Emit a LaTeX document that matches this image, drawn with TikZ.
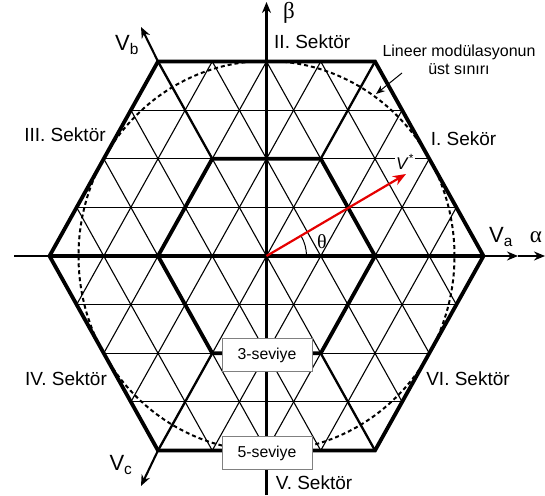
\documentclass[tikz,border=0pt]{standalone}
\usepackage{fontspec}
\setmainfont{Liberation Sans}
\newfontfamily\greekfont{Liberation Serif}
\usetikzlibrary{arrows.meta}
\begin{document}
\begin{tikzpicture}[x=1pt,y=1pt,
  thinline/.style={line width=1.1pt},
  medline/.style={line width=2.3pt},
  thickline/.style={line width=3.8pt, line join=miter},
  axisline/.style={line width=2.1pt},
  tipend/.style={-{Stealth[length=11pt,width=9pt]}},
  lbl/.style={font=\fontsize{19}{19}\selectfont, inner sep=0pt},
  vlbl/.style={font=\fontsize{22}{22}\selectfont, inner sep=0pt},
  smalllbl/.style={font=\fontsize{16}{17.5}\selectfont, inner sep=0pt, align=center},
  greek/.style={font=\greekfont\fontsize{23}{23}\selectfont, inner sep=0pt},
  levelbox/.style={draw=gray, line width=0.8pt, fill=white, minimum width=90pt, minimum height=33pt, inner sep=0pt, font=\fontsize{15.8}{17}\selectfont}
]
\useasboundingbox (0,0) rectangle (545,495);
\coordinate (O) at (266.5,239);
\begin{scope}[shift={(266.5,239)}, x={(54.25pt,0pt)}, y={(27.125pt,48.625pt)}]
  % outer hexagon vertices
  \coordinate (H1) at (4,0);  \coordinate (H2) at (0,4);  \coordinate (H3) at (-4,4);
  \coordinate (H4) at (-4,0); \coordinate (H5) at (0,-4); \coordinate (H6) at (4,-4);
  % inner hexagon vertices
  \coordinate (I1) at (2,0);  \coordinate (I2) at (0,2);  \coordinate (I3) at (-2,2);
  \coordinate (I4) at (-2,0); \coordinate (I5) at (0,-2); \coordinate (I6) at (2,-2);
  \begin{scope}
    \clip (H1) -- (H2) -- (H3) -- (H4) -- (H5) -- (H6) -- cycle;
    \foreach \k in {-3,...,3} \draw[thinline] (-12,\k) -- (12,\k);
    \foreach \k in {-8,...,8} {
      \draw[thinline] (\k,-5) -- (\k,5);
      \draw[thinline] (\k+5,-5) -- (\k-5,5);
    }
  \end{scope}
\end{scope}
% linear modulation limit
\draw[line width=2pt, dash pattern=on 4pt off 3pt] (O) ellipse [x radius=188, y radius=195];
% medium diagonal segments
\draw[medline] (I2) -- (H2);
\draw[medline] (I3) -- (H3);
\draw[medline] (I5) -- (H5);
\draw[medline] (I6) -- (H6);
% axes
\coordinate (AL) at (14,239);
\coordinate (VaT) at (518,239);
\coordinate (AlT) at (545,239);
\draw[axisline, tipend] (AL) -- (VaT);
\draw[axisline, tipend] (VaT) -- (AlT);
\coordinate (BB) at (266.5,0);
\coordinate (BT) at (266.5,493);
\draw[axisline, tipend] (BB) -- (BT);
\coordinate (VbT) at (141,468);
\coordinate (VcT) at (141,9);
\draw[axisline, tipend] (H3) -- (VbT);
\draw[axisline, tipend] (H5) -- (VcT);
% thick hexagons
\draw[thickline] (H1) -- (H2) -- (H3) -- (H4) -- (H5) -- (H6) -- cycle;
\draw[thickline] (I1) -- (I2) -- (I3) -- (I4) -- (I5) -- (I6) -- cycle;
\draw[thickline] (H4) -- (H1);
% reference vector
\coordinate (VT) at (406,321);
\draw[line width=1pt] ([shift={(40,0)}]O) arc[start angle=0, end angle=30.6, radius=40];
\draw[red!90!black, line width=2.2pt, -{Stealth[length=13pt,width=10pt]}] (O) -- (VT);
\node[greek, font=\greekfont\fontsize{20}{20}\selectfont] (th) at (322,253) {θ};
\node[fill=white, inner sep=1.5pt, font=\fontsize{17}{17}\selectfont] (vs) at (405,333) {\textit{V}\textsuperscript{*}};
% annotation
\node[smalllbl] (lin) at (459,435) {Lineer modülasyonun\\üst sınırı};
\coordinate (annS) at (402,422);
\coordinate (annT) at (376,401);
\draw[line width=1pt, -{Stealth[length=9pt,width=7pt]}] (annS) -- (annT);
% labels
\node[greek] (beta) at (289,482) {β};
\node[greek] (alpha) at (536,258) {α};
\node[vlbl] (va) at (501,258) {V\textsubscript{a}};
\node[vlbl] (vb) at (127,450) {V\textsubscript{b}};
\node[vlbl] (vc) at (121,30) {V\textsubscript{c}};
\node[lbl, anchor=west] (s2) at (274,453) {II. Sektör};
\node[lbl] (s1) at (463.5,356) {I. Sekör};
\node[lbl] (s3) at (65,360) {III. Sektör};
\node[lbl] (s4) at (66,116) {IV. Sektör};
\node[lbl] (s6) at (468,116) {VI. Sektör};
\node[lbl] (s5) at (314,12) {V. Sektör};
% level boxes
\node[levelbox] (l3) at (267,140) {3-seviye};
\node[levelbox] (l5) at (267,42) {5-seviye};
\end{tikzpicture}
\end{document}
